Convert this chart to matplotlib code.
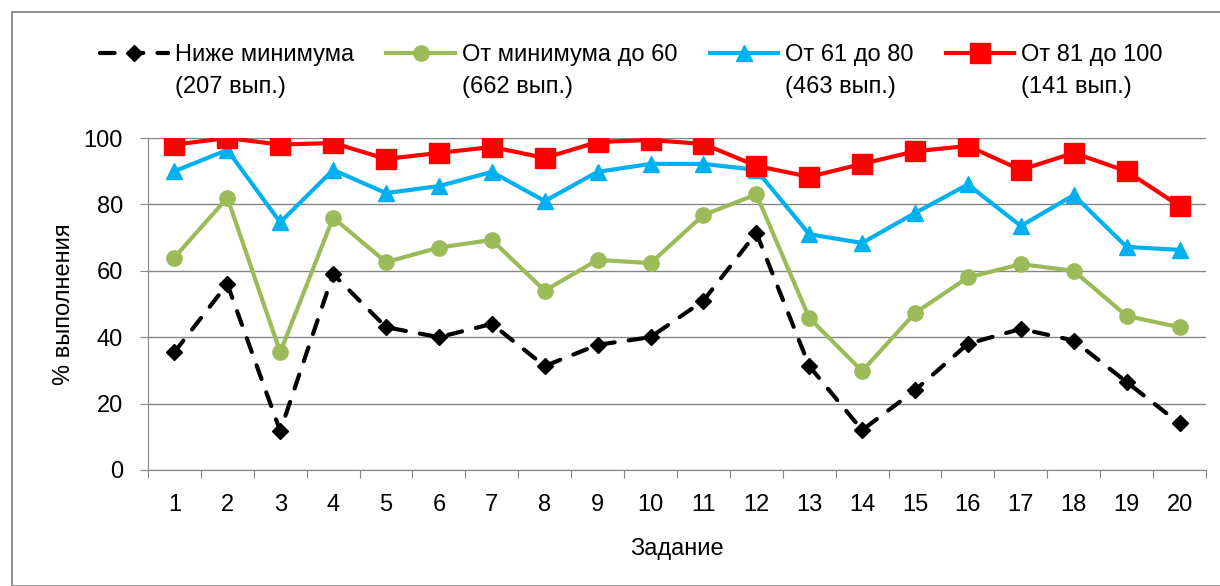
import numpy as np
import matplotlib.pyplot as plt
from matplotlib.patches import Rectangle
from matplotlib.transforms import IdentityTransform

plt.rcParams['font.family'] = ['Liberation Sans', 'DejaVu Sans']

tasks = list(range(1, 21))

below_min = [35.5, 56, 11.7, 59, 43, 40, 44, 31.3, 37.7, 40,
             51, 71.4, 31.3, 12, 24, 38, 42.5, 39, 26.5, 14]
min_to_60 = [64, 82, 35.5, 76, 62.6, 67, 69.3, 54, 63.3, 62.3,
             76.8, 83, 45.8, 29.8, 47.3, 58, 62, 60, 46.4, 43]
from_61_80 = [90, 96.4, 74.6, 90.4, 83.4, 85.5, 89.8, 81, 89.8, 92.2,
              92.2, 90.4, 71, 68.4, 77.4, 86, 73.5, 82.8, 67.2, 66.3]
from_81_100 = [98, 100, 98, 98.5, 93.7, 95.5, 97.3, 94, 98.8, 99.4,
               98.2, 91.6, 88.3, 92.2, 96, 97.6, 90.4, 95.5, 90, 79.5]

names = ['Ниже минимума', 'От минимума до 60', 'От 61 до 80', 'От 81 до 100']
counts = ['(207 вып.)', '(662 вып.)', '(463 вып.)', '(141 вып.)']

FS = 17

fig = plt.figure(figsize=(12.2, 5.86), dpi=100)
ax = fig.add_axes([0.1213, 0.198, 0.8672, 0.5665])

ax.plot(tasks, below_min, color='black', lw=3, ls=(0, (3.5, 3.4)),
        dash_capstyle='round', marker='D', ms=8, label=names[0], zorder=3)
ax.plot(tasks, min_to_60, color='#9BBB59', lw=3, marker='o', ms=11,
        label=names[1], zorder=4)
ax.plot(tasks, from_61_80, color='#00B0F0', lw=3, marker='^', ms=11,
        label=names[2], zorder=5)
ax.plot(tasks, from_81_100, color='#FF0000', lw=3, marker='s', ms=14,
        label=names[3], zorder=6)

ax.set_xlim(0.5, 20.5)
ax.set_ylim(0, 100)
ax.set_yticks(np.arange(0, 101, 20))
ax.yaxis.grid(True, color='#868686', lw=1)
ax.set_axisbelow(True)

ax.set_xticks(np.arange(0.5, 21, 1))
ax.set_xticklabels([])
ax.set_xticks(tasks, minor=True)
ax.set_xticklabels([str(t) for t in tasks], minor=True)
ax.tick_params(axis='x', which='major', length=6, color='#868686')
ax.tick_params(axis='x', which='minor', length=0, pad=17, labelsize=FS)
ax.tick_params(axis='y', length=6, color='#868686', pad=12, labelsize=FS)

for s in ['top', 'right']:
    ax.spines[s].set_visible(False)
for s in ['left', 'bottom']:
    ax.spines[s].set_color('#868686')

ax.set_xlabel('Задание', fontsize=FS, labelpad=16)
ax.set_ylabel('% выполнения', fontsize=FS, labelpad=6)

leg = fig.legend(loc='upper left', bbox_to_anchor=(0.072, 0.945), ncol=4,
                 frameon=False, fontsize=FS, handlelength=2.9,
                 handletextpad=0.3, columnspacing=1.36, borderpad=0)

# second line of each legend label sits under the first one
fig.canvas.draw()
for t, c in zip(leg.get_texts(), counts):
    bb = t.get_window_extent()
    fig.text(bb.x0, bb.y0 - 32, c, fontsize=FS, va='bottom', ha='left',
             transform=IdentityTransform())

fig.patches.append(Rectangle((12 / 1220, 0), 1.1, 1 - 12 / 586,
                             transform=fig.transFigure, fill=False,
                             edgecolor='#868686', lw=1.3))

fig.savefig('out.png', dpi=100)
